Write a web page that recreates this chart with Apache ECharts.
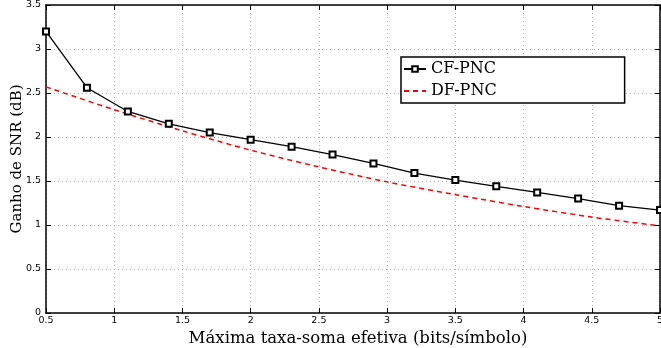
<!DOCTYPE html>
<html>
<head>
<meta charset="utf-8">
<script src="https://cdn.jsdelivr.net/npm/echarts@6/dist/echarts.min.js"></script>
<style>
  html, body { margin: 0; padding: 0; background: #fff; }
  #chart { width: 661px; height: 348px; }
</style>
</head>
<body>
<div id="chart"></div>
<script>
// valores
const cfRate = [0.5, 0.8, 1.1, 1.4, 1.7, 2.0, 2.3, 2.6, 2.9, 3.2, 3.5, 3.8, 4.1, 4.4, 4.7, 5.0];
const cfGain = [3.2, 2.56, 2.29, 2.15, 2.05, 1.97, 1.89, 1.80, 1.70, 1.59, 1.51, 1.44, 1.37, 1.30, 1.22, 1.17];
const dfRate = [0.5, 1.0, 1.5, 2.0, 2.5, 3.0, 3.5, 4.0, 4.5, 5.0];
const dfGain = [2.57, 2.31, 2.07, 1.85, 1.66, 1.49, 1.345, 1.21, 1.09, 0.99];

const serif = 'DejaVu Serif';
const sans = 'DejaVu Sans';

const chart = echarts.init(document.getElementById('chart'));

const gridLine = { show: true, lineStyle: { color: '#b0b0b0', type: [1, 3], width: 1 } };
const frameLine = { show: true, onZero: false, lineStyle: { color: '#000', width: 1.5 } };
const innerTick = { show: true, inside: true, length: 5, lineStyle: { color: '#000', width: 1 } };

const option = {
  animation: false,
  grid: { left: 46, right: 1, top: 5, bottom: 35, outerBoundsMode: 'none', containLabel: false },
  legend: {
    orient: 'vertical',
    left: 401,
    top: 57,
    padding: [4, 128, 4, 2],
    itemWidth: 22,
    itemHeight: 7,
    itemGap: 6,
    backgroundColor: '#fff',
    borderColor: '#000',
    borderWidth: 1.5,
    borderRadius: 0,
    textStyle: { fontFamily: serif, fontSize: 16, color: '#000', lineHeight: 16 },
    data: [
      { name: 'CF-PNC' },
      { name: 'DF-PNC', itemStyle: { opacity: 0 } }
    ]
  },
  xAxis: [
    {
      type: 'value',
      min: 0.5,
      max: 5,
      interval: 0.5,
      name: 'Máxima taxa-soma efetiva (bits/símbolo)',
      nameLocation: 'middle',
      nameGap: 17,
      nameMoveOverlap: false,
      nameTextStyle: { fontFamily: serif, fontSize: 16.5, color: '#000', padding: [0, 0, 0, 10] },
      axisLine: frameLine,
      axisTick: innerTick,
      splitLine: gridLine,
      axisLabel: { fontFamily: sans, fontSize: 9.5, color: '#000', margin: 3 }
    },
    {
      type: 'value',
      position: 'top',
      min: 0.5,
      max: 5,
      interval: 0.5,
      axisLine: frameLine,
      axisTick: innerTick,
      splitLine: { show: false },
      axisLabel: { show: false }
    }
  ],
  yAxis: [
    {
      type: 'value',
      min: 0,
      max: 3.5,
      interval: 0.5,
      name: 'Ganho de SNR (dB)',
      nameLocation: 'middle',
      nameGap: 21,
      nameMoveOverlap: false,
      nameTextStyle: { fontFamily: serif, fontSize: 15, color: '#000' },
      axisLine: frameLine,
      axisTick: innerTick,
      splitLine: gridLine,
      axisLabel: { fontFamily: sans, fontSize: 9.5, color: '#000', margin: 5 }
    },
    {
      type: 'value',
      position: 'right',
      min: 0,
      max: 3.5,
      interval: 0.5,
      axisLine: frameLine,
      axisTick: innerTick,
      splitLine: { show: false },
      axisLabel: { show: false }
    }
  ],
  series: [
    {
      name: 'CF-PNC',
      type: 'line',
      data: cfRate.map((x, i) => [x, cfGain[i]]),
      symbol: 'emptyRect',
      symbolSize: 6,
      showAllSymbol: true,
      lineStyle: { color: '#000', width: 1.3 },
      itemStyle: { color: '#000', borderColor: '#000', borderWidth: 1.2 }
    },
    {
      name: 'DF-PNC',
      type: 'line',
      data: dfRate.map((x, i) => [x, dfGain[i]]),
      smooth: 0.3,
      symbol: 'none',
      lineStyle: { color: '#ff0000', width: 1.5, type: [5, 4] },
      itemStyle: { color: '#ff0000' }
    }
  ]
};

chart.setOption(option);
window.addEventListener('resize', () => chart.resize());
</script>
</body>
</html>
